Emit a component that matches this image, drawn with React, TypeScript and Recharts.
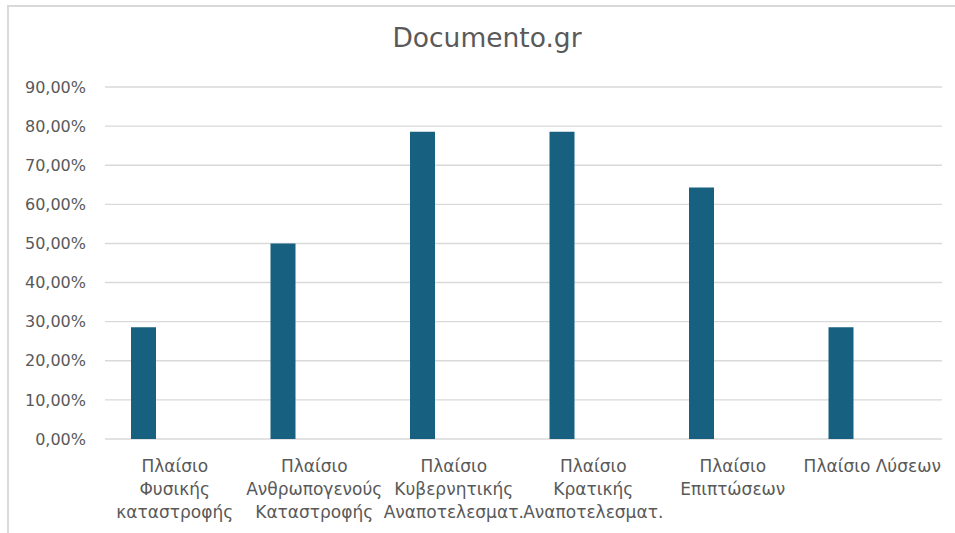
import { BarChart, Bar, XAxis, YAxis, CartesianGrid } from 'recharts';

const categories = [
  'Πλαίσιο\nΦυσικής\nκαταστροφής',
  'Πλαίσιο\nΑνθρωπογενούς\nΚαταστροφής',
  'Πλαίσιο\nΚυβερνητικής\nΑναποτελεσματ.',
  'Πλαίσιο\nΚρατικής\nΑναποτελεσματ.',
  'Πλαίσιο\nΕπιπτώσεων',
  'Πλαίσιο Λύσεων',
];
const shares = [0.2857, 0.5, 0.7857, 0.7857, 0.6429, 0.2857];
// second (empty) series that Excel reserves room for
const emptySeries = [null, null, null, null, null, null];
const yTicks = [0, 0.1, 0.2, 0.3, 0.4, 0.5, 0.6, 0.7, 0.8, 0.9];

const chartData = categories.map((name, i) => ({
  name,
  share: shares[i],
  extra: emptySeries[i],
}));

const FONT = '"DejaVu Sans", "Noto Sans", sans-serif';
const TEXT = '#595959';

const formatPct = (v: number) => (v * 100).toFixed(2).replace('.', ',') + '%';

function CategoryTick({ x, y, payload }: any) {
  const lines = String(payload.value).split('\n');
  return (
    <text x={x} y={y} textAnchor="middle" fill={TEXT} fontSize={17} fontFamily={FONT}>
      {lines.map((line, i) => (
        <tspan key={i} x={x} dy={i === 0 ? 33 : 23}>
          {line}
        </tspan>
      ))}
    </text>
  );
}

export default function App() {
  return (
    <div style={{ position: 'absolute', left: 0, top: 0, width: 955, height: 533, background: '#fff', overflow: 'hidden' }}>
      <div
        style={{
          position: 'absolute',
          left: 7,
          top: 5,
          width: 960,
          height: 540,
          borderTop: '2px solid #d9d9d9',
          borderLeft: '2px solid #d9d9d9',
        }}
      />
      <div
        style={{
          position: 'absolute',
          left: 0,
          width: 974,
          top: 22,
          textAlign: 'center',
          fontFamily: FONT,
          fontSize: 26.5,
          color: TEXT,
        }}
      >
        Documento.gr
      </div>
      <div style={{ position: 'absolute', left: 0, top: 0 }}>
        <BarChart
          width={955}
          height={533}
          data={chartData}
          margin={{ top: 87, right: 13, bottom: 14, left: 0 }}
          barGap={37}
        >
          <CartesianGrid horizontal vertical={false} stroke="#d9d9d9" strokeWidth={1.4} />
          <XAxis
            dataKey="name"
            height={80}
            axisLine={false}
            tickLine={false}
            tickSize={0}
            tickMargin={0}
            interval={0}
            tick={<CategoryTick />}
          />
          <YAxis
            width={105}
            domain={[0, 0.9]}
            ticks={yTicks}
            axisLine={false}
            tickLine={false}
            tickSize={0}
            tickMargin={19}
            tickFormatter={formatPct}
            tick={{ fill: TEXT, fontSize: 16, fontFamily: FONT }}
          />
          <Bar dataKey="share" fill="#17607f" barSize={25} isAnimationActive={false} />
          <Bar dataKey="extra" fill="#ed7d31" barSize={25} isAnimationActive={false} />
        </BarChart>
      </div>
    </div>
  );
}
